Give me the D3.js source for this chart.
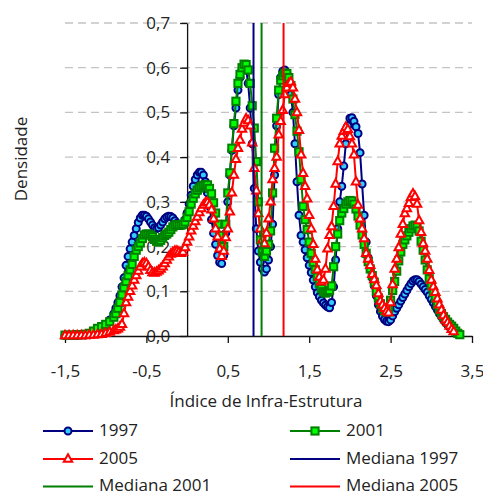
<!DOCTYPE html>
<html>
<head>
<meta charset="utf-8">
<script src="https://cdn.jsdelivr.net/npm/d3@7"></script>
<style>
  body { margin: 0; background: #fff; }
  text { font-family: "Open Sans", sans-serif; fill: #222; }
</style>
</head>
<body>
<div id="chart"></div>
<script>
// x grid of the density estimate (coarse in the left tail, 0.025 afterwards)
var xs = [
  -1.5, -1.45, -1.4, -1.35, -1.3, -1.25, -1.2, -1.15, -1.1, -1.05, -1, -0.95,
  -0.9, -0.875, -0.85, -0.825, -0.8, -0.775, -0.75, -0.725, -0.7, -0.675,
  -0.65, -0.625, -0.6, -0.575, -0.55, -0.525, -0.5, -0.475, -0.45, -0.425,
  -0.4, -0.375, -0.35, -0.325, -0.3, -0.275, -0.25, -0.225, -0.2, -0.175,
  -0.15, -0.125, -0.1, -0.075, -0.05, -0.025, 0, 0.025, 0.05, 0.075,
  0.1, 0.125, 0.15, 0.175, 0.2, 0.225, 0.25, 0.275, 0.3, 0.325,
  0.35, 0.375, 0.4, 0.425, 0.45, 0.475, 0.5, 0.525, 0.55, 0.575,
  0.6, 0.625, 0.65, 0.675, 0.7, 0.725, 0.75, 0.775, 0.8, 0.825,
  0.85, 0.875, 0.9, 0.925, 0.95, 0.975, 1, 1.025, 1.05, 1.075,
  1.1, 1.125, 1.15, 1.175, 1.2, 1.225, 1.25, 1.275, 1.3, 1.325,
  1.35, 1.375, 1.4, 1.425, 1.45, 1.475, 1.5, 1.525, 1.55, 1.575,
  1.6, 1.625, 1.65, 1.675, 1.7, 1.725, 1.75, 1.775, 1.8, 1.825,
  1.85, 1.875, 1.9, 1.925, 1.95, 1.975, 2, 2.025, 2.05, 2.075,
  2.1, 2.125, 2.15, 2.175, 2.2, 2.225, 2.25, 2.275, 2.3, 2.325,
  2.35, 2.375, 2.4, 2.425, 2.45, 2.475, 2.5, 2.525, 2.55, 2.575,
  2.6, 2.625, 2.65, 2.675, 2.7, 2.725, 2.75, 2.775, 2.8, 2.825,
  2.85, 2.875, 2.9, 2.925, 2.95, 2.975, 3, 3.025, 3.05, 3.075,
  3.1, 3.125, 3.15, 3.175, 3.2, 3.225, 3.25, 3.275, 3.3, 3.325,
  3.35
];

var dens1997 = [
  0.001, 0.001, 0.001, 0.001, 0.002, 0.002, 0.003, 0.005, 0.008, 0.013, 0.022, 0.036,
  0.05, 0.062, 0.075, 0.09, 0.11, 0.13, 0.158, 0.178, 0.195, 0.21,
  0.225, 0.24, 0.254, 0.264, 0.27, 0.27, 0.268, 0.262, 0.255, 0.248,
  0.242, 0.24, 0.242, 0.248, 0.255, 0.262, 0.266, 0.268, 0.267, 0.264,
  0.258, 0.252, 0.248, 0.247, 0.25, 0.26, 0.275, 0.295, 0.315, 0.335,
  0.35, 0.36, 0.366, 0.366, 0.36, 0.345, 0.32, 0.29, 0.26, 0.23,
  0.205, 0.18, 0.165, 0.162, 0.18, 0.23, 0.3, 0.36, 0.415, 0.47,
  0.51, 0.55, 0.578, 0.595, 0.602, 0.595, 0.565, 0.51, 0.43, 0.33,
  0.24, 0.19, 0.165, 0.15, 0.143, 0.15, 0.17, 0.2, 0.25, 0.36,
  0.47, 0.54, 0.578, 0.592, 0.595, 0.588, 0.57, 0.54, 0.5, 0.43,
  0.345, 0.27, 0.225, 0.21, 0.193, 0.175, 0.158, 0.142, 0.125, 0.11,
  0.097, 0.088, 0.08, 0.074, 0.069, 0.065, 0.063, 0.075, 0.11, 0.17,
  0.24, 0.3, 0.335, 0.38, 0.43, 0.47, 0.487, 0.488, 0.48, 0.468,
  0.453, 0.41, 0.34, 0.27, 0.21, 0.175, 0.15, 0.13, 0.112, 0.09,
  0.07, 0.055, 0.044, 0.037, 0.033, 0.032, 0.036, 0.045, 0.054, 0.062,
  0.07, 0.078, 0.086, 0.094, 0.102, 0.11, 0.117, 0.123, 0.126, 0.126,
  0.122, 0.116, 0.11, 0.104, 0.098, 0.09, 0.082, 0.074, 0.066, 0.058,
  0.05, 0.043, 0.036, 0.03, 0.025, 0.02, 0.016, 0.012, 0.009, null,
  null
];

var dens2001 = [
  0.002, 0.002, 0.002, 0.003, 0.003, 0.004, 0.006, 0.011, 0.017, 0.021, 0.026, 0.032,
  0.042, 0.05, 0.062, 0.075, 0.092, 0.108, 0.122, 0.135, 0.148, 0.16,
  0.178, 0.192, 0.2, 0.208, 0.218, 0.226, 0.228, 0.228, 0.226, 0.222,
  0.216, 0.212, 0.21, 0.214, 0.22, 0.225, 0.228, 0.232, 0.238, 0.244,
  0.248, 0.249, 0.248, 0.248, 0.25, 0.255, 0.265, 0.278, 0.295, 0.308,
  0.318, 0.326, 0.331, 0.334, 0.337, 0.338, 0.338, 0.33, 0.318, 0.298,
  0.275, 0.25, 0.225, 0.205, 0.2, 0.25, 0.32, 0.365, 0.42, 0.475,
  0.525, 0.565, 0.585, 0.6, 0.608, 0.607, 0.595, 0.565, 0.515, 0.465,
  0.39, 0.3, 0.215, 0.188, 0.178, 0.19, 0.205, 0.235, 0.32, 0.42,
  0.487, 0.55, 0.572, 0.582, 0.588, 0.587, 0.578, 0.56, 0.53, 0.495,
  0.458, 0.412, 0.35, 0.29, 0.26, 0.238, 0.21, 0.185, 0.165, 0.148,
  0.132, 0.118, 0.106, 0.099, 0.096, 0.098, 0.102, 0.112, 0.155, 0.2,
  0.228, 0.258, 0.275, 0.285, 0.295, 0.3, 0.303, 0.302, 0.295, 0.284,
  0.268, 0.248, 0.226, 0.205, 0.185, 0.166, 0.15, 0.135, 0.12, 0.1,
  0.085, 0.072, 0.062, 0.056, 0.054, 0.062, 0.08, 0.102, 0.122, 0.145,
  0.168, 0.188, 0.205, 0.215, 0.224, 0.232, 0.24, 0.246, 0.248, 0.247,
  0.235, 0.212, 0.192, 0.17, 0.148, 0.128, 0.113, 0.098, 0.084, 0.07,
  0.058, 0.05, 0.043, 0.037, 0.031, 0.026, 0.022, 0.017, 0.011, 0.006,
  0.003
];

var dens2005 = [
  0.001, 0.001, 0.001, 0.001, 0.001, 0.001, 0.002, 0.002, 0.003, 0.004, 0.006, 0.009,
  0.012, 0.014, 0.016, 0.02, 0.026, 0.05, 0.075, 0.087, 0.1, 0.112,
  0.125, 0.135, 0.145, 0.155, 0.162, 0.164, 0.162, 0.155, 0.147, 0.142,
  0.141, 0.143, 0.146, 0.15, 0.155, 0.162, 0.17, 0.177, 0.183, 0.187,
  0.19, 0.19, 0.188, 0.185, 0.188, 0.198, 0.21, 0.222, 0.235, 0.246,
  0.256, 0.266, 0.276, 0.285, 0.293, 0.298, 0.299, 0.293, 0.282, 0.262,
  0.24, 0.222, 0.195, 0.178, 0.19, 0.22, 0.24, 0.278, 0.32, 0.36,
  0.395, 0.42, 0.438, 0.463, 0.476, 0.486, 0.482, 0.47, 0.432, 0.375,
  0.325, 0.274, 0.24, 0.215, 0.207, 0.23, 0.262, 0.3, 0.35, 0.375,
  0.4, 0.45, 0.48, 0.505, 0.54, 0.555, 0.565, 0.568, 0.555, 0.53,
  0.5, 0.46, 0.405, 0.364, 0.335, 0.307, 0.27, 0.24, 0.205, 0.172,
  0.148, 0.132, 0.121, 0.125, 0.15, 0.195, 0.225, 0.245, 0.29, 0.34,
  0.39, 0.43, 0.447, 0.458, 0.467, 0.462, 0.446, 0.43, 0.405, 0.345,
  0.293, 0.262, 0.24, 0.218, 0.185, 0.172, 0.158, 0.138, 0.126, 0.113,
  0.095, 0.078, 0.07, 0.062, 0.055, 0.052, 0.075, 0.115, 0.15, 0.172,
  0.198, 0.228, 0.25, 0.274, 0.285, 0.297, 0.31, 0.318, 0.312, 0.295,
  0.258, 0.232, 0.207, 0.19, 0.172, 0.147, 0.125, 0.11, 0.098, 0.083,
  0.07, 0.058, 0.046, 0.036, 0.03, 0.022, 0.015, 0.01, null, null,
  null
];

// medians of the index
var medianYears = ["1997", "2001", "2005"];
var medianValues = [0.816, 0.915, 1.185];

var xTicks = [-1.5, -0.5, 0.5, 1.5, 2.5, 3.5];
var yTicks = [0, 0.1, 0.2, 0.3, 0.4, 0.5, 0.6, 0.7];

var legendLabels = ["1997", "2001", "2005", "Mediana 1997", "Mediana 2001", "Mediana 2005"];

const W = 483, H = 496;
const navy = "#000080", green = "#008000", red = "#ff0000";

const svg = d3.select("#chart").append("svg")
  .attr("width", W)
  .attr("height", H);

const x = d3.scaleLinear().domain([-1.5, 3.5]).range([65, 472]);
const y = d3.scaleLinear().domain([0, 0.7]).range([336, 23]);

const pt = d3.formatLocale({decimal: ",", thousands: ".", grouping: [3], currency: ["R$", ""], minus: "-"});
const f1 = pt.format(".1f");

// dashed grid
svg.append("g")
  .selectAll("line")
  .data(yTicks.filter(d => d > 0))
  .enter().append("line")
  .attr("x1", x.range()[0]).attr("x2", x.range()[1])
  .attr("y1", d => y(d)).attr("y2", d => y(d))
  .style("stroke", "#c4c4c4")
  .style("stroke-width", 1.3)
  .style("stroke-dasharray", "8,5");

// axes (y axis crosses at x = 0)
const yAxis = svg.append("g")
  .attr("transform", "translate(" + x(0) + ",0)")
  .call(d3.axisLeft(y).tickValues(yTicks).tickFormat(f1).tickSize(7).tickSizeOuter(0).tickPadding(10));

const xAxis = svg.append("g")
  .attr("transform", "translate(0," + y(0) + ")")
  .call(d3.axisBottom(x).tickValues(xTicks).tickFormat(f1).tickSize(7).tickSizeOuter(0).tickPadding(22));

[yAxis, xAxis].forEach(function (a) {
  a.selectAll("path, line").style("stroke", "#111").style("stroke-width", 1.3);
  a.selectAll("text").style("font-size", "17px").style("font-family", "'Open Sans', sans-serif").style("fill", "#222");
});

// axis titles
svg.append("text")
  .attr("x", 266).attr("y", 407)
  .attr("text-anchor", "middle")
  .style("font-size", "17px")
  .text("Índice de Infra-Estrutura");

svg.append("text")
  .attr("transform", "translate(27,159) rotate(-90)")
  .attr("text-anchor", "middle")
  .style("font-size", "17px")
  .text("Densidade");

// marker painters
function drawCircle(sel) {
  sel.append("circle").attr("r", 3.5)
    .style("fill", "#33ccff").style("stroke", navy).style("stroke-width", 2);
}
function drawSquare(sel) {
  sel.append("rect").attr("x", -3.6).attr("y", -3.6).attr("width", 7.2).attr("height", 7.2)
    .style("fill", "#00ff00").style("stroke", green).style("stroke-width", 2);
}
function drawTriangle(sel) {
  sel.append("path").attr("d", "M0,-4.8L4.2,2.7L-4.2,2.7Z")
    .style("fill", "#fff").style("stroke", red).style("stroke-width", 2)
    .style("stroke-linejoin", "miter");
}

const series = [
  {name: "1997", values: dens1997, color: navy, marker: drawCircle},
  {name: "2001", values: dens2001, color: green, marker: drawSquare},
  {name: "2005", values: dens2005, color: red, marker: drawTriangle}
];

const line = d3.line()
  .defined(d => d[1] != null)
  .x(d => x(d[0]))
  .y(d => y(d[1]));

series.forEach(function (s) {
  var pts = xs.map((v, i) => [v, s.values[i]]);
  var g = svg.append("g");
  g.append("path")
    .datum(pts)
    .attr("d", line)
    .style("fill", "none")
    .style("stroke", s.color)
    .style("stroke-width", 2);
  g.selectAll("g.mk")
    .data(pts.filter(d => d[1] != null))
    .enter().append("g")
    .attr("class", "mk")
    .attr("transform", d => "translate(" + x(d[0]) + "," + y(d[1]) + ")")
    .call(s.marker);
});

// median lines
const medColors = [navy, green, red];
svg.append("g")
  .selectAll("line")
  .data(medianValues)
  .enter().append("line")
  .attr("x1", d => x(d)).attr("x2", d => x(d))
  .attr("y1", y(0.7)).attr("y2", y(0))
  .style("stroke", (d, i) => medColors[i])
  .style("stroke-width", 2);

// legend, two columns
const legColors = [navy, green, red, navy, green, red];
const legMarkers = [drawCircle, drawSquare, drawTriangle, null, null, null];
const legRows = [431, 459, 486.5];
const leg = svg.append("g");
legendLabels.forEach(function (lab, i) {
  var cx = i % 2 == 0 ? 43 : 290;
  var cy = legRows[Math.floor(i / 2)];
  var item = leg.append("g").attr("transform", "translate(" + cx + "," + cy + ")");
  item.append("line").attr("x1", 0).attr("x2", 50).attr("y1", 0).attr("y2", 0)
    .style("stroke", legColors[i]).style("stroke-width", 2.2);
  if (legMarkers[i]) {
    item.append("g").attr("transform", "translate(25,0)").call(legMarkers[i]);
  }
  item.append("text").attr("x", 56).attr("y", 4.5)
    .style("font-size", "17px")
    .text(lab);
});
</script>
</body>
</html>
